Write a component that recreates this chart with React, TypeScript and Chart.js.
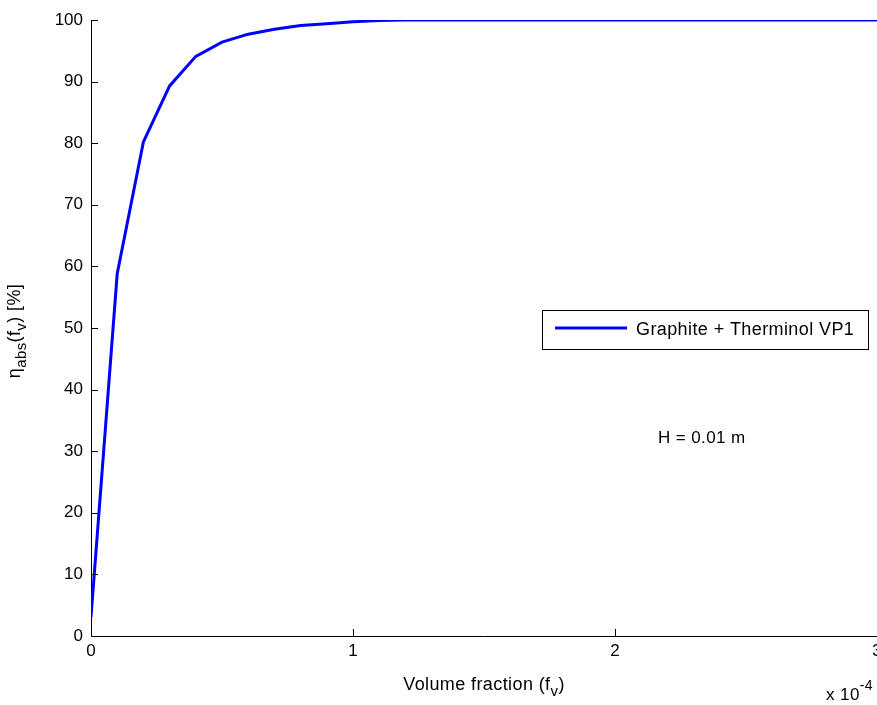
import React, { useEffect, useRef } from "react";
import { Chart, registerables } from "chart.js";

Chart.register(...registerables);

// Volume fraction in units of 1e-4
const volumeFraction = [0, 0.1, 0.2, 0.3, 0.4, 0.5, 0.6, 0.7, 0.8, 0.9, 1.0, 1.1, 1.2, 1.5, 2.0, 2.5, 3.0];
const absorptionEfficiency = [3.1, 58.8, 80.2, 89.3, 94.1, 96.4, 97.7, 98.5, 99.1, 99.4, 99.7, 99.9, 100, 100, 100, 100, 100];
const seriesLabel = "Graphite + Therminol VP1";
const xTickValues = [0, 1, 2, 3];
const yTickValues = [0, 10, 20, 30, 40, 50, 60, 70, 80, 90, 100];
const annotationText = "H = 0.01 m";

const FONT = "'Liberation Sans', Arial, Helvetica, sans-serif";

type Seg = { t: string; dy?: number; size?: number };

function drawRich(ctx: CanvasRenderingContext2D, segs: Seg[], x: number, y: number, base: number, align: "center" | "left") {
  let total = 0;
  const widths = segs.map((s) => {
    ctx.font = `${s.size ?? base}px ${FONT}`;
    const w = ctx.measureText(s.t).width;
    total += w;
    return w;
  });
  let cx = align === "center" ? x - total / 2 : x;
  segs.forEach((s, i) => {
    ctx.font = `${s.size ?? base}px ${FONT}`;
    ctx.fillText(s.t, cx, y + (s.dy ?? 0));
    cx += widths[i];
  });
}

const decorPlugin = {
  id: "decor",
  afterDraw(chart: any) {
    const ctx: CanvasRenderingContext2D = chart.ctx;
    const xs = chart.scales.x;
    const ys = chart.scales.y;
    const area = chart.chartArea;
    ctx.save();
    // inward ticks
    ctx.strokeStyle = "#000";
    ctx.lineWidth = 1;
    const tl = 7;
    xTickValues.forEach((v) => {
      const px = Math.round(xs.getPixelForValue(v)) + 0.5;
      ctx.beginPath();
      ctx.moveTo(px, area.bottom);
      ctx.lineTo(px, area.bottom - tl);
      ctx.stroke();
    });
    yTickValues.forEach((v) => {
      const py = Math.round(ys.getPixelForValue(v)) + 0.5;
      ctx.beginPath();
      ctx.moveTo(area.left, py);
      ctx.lineTo(area.left + tl, py);
      ctx.stroke();
    });

    ctx.fillStyle = "#000";
    ctx.textBaseline = "alphabetic";
    ctx.textAlign = "left";
    (ctx as any).letterSpacing = "0.4px";

    // x title
    drawRich(ctx, [{ t: "Volume fraction (f" }, { t: "v", dy: 6, size: 15 }, { t: ")" }], 484, 690, 18, "center");
    // exponent
    drawRich(ctx, [{ t: "x 10" }, { t: "-4", dy: -10, size: 14 }], 826, 700, 17, "left");

    // y title (rotated)
    ctx.save();
    ctx.translate(20, 331);
    ctx.rotate(-Math.PI / 2);
    drawRich(ctx, [{ t: "η" }, { t: "abs", dy: 6, size: 15 }, { t: "(f" }, { t: "v", dy: 6, size: 15 }, { t: ") [%]" }], 0, 0, 18, "center");
    ctx.restore();

    // legend box
    const lx = 542, ly = 310, lw = 326, lh = 39;
    ctx.fillStyle = "#fff";
    ctx.fillRect(lx, ly, lw, lh);
    ctx.strokeStyle = "#000";
    ctx.lineWidth = 1;
    ctx.strokeRect(lx + 0.5, ly + 0.5, lw, lh);
    ctx.strokeStyle = "#0000ff";
    ctx.lineWidth = 3;
    ctx.beginPath();
    ctx.moveTo(555, 328);
    ctx.lineTo(627, 328);
    ctx.stroke();
    ctx.fillStyle = "#000";
    ctx.font = `18px ${FONT}`;
    ctx.textBaseline = "middle";
    ctx.fillText(seriesLabel, 636, 330);

    // annotation
    ctx.font = `17px ${FONT}`;
    ctx.fillText(annotationText, 658, 438);
    ctx.restore();
  },
};

export default function App() {
  const ref = useRef<HTMLCanvasElement | null>(null);
  useEffect(() => {
    if (!ref.current) return;
    const chart = new Chart(ref.current, {
      type: "line",
      data: {
        datasets: [
          {
            label: seriesLabel,
            data: volumeFraction.map((x, i) => ({ x, y: absorptionEfficiency[i] })),
            borderColor: "#0000ff",
            backgroundColor: "#0000ff",
            borderWidth: 3,
            pointRadius: 0,
            tension: 0,
            fill: false,
          },
        ],
      },
      options: {
        responsive: false,
        animation: false,
        layout: { padding: { left: 0, right: 63, top: 20, bottom: 0 } },
        plugins: { legend: { display: false }, tooltip: { enabled: false } },
        scales: {
          x: {
            type: "linear",
            min: 0,
            max: 3,
            afterFit: (s: any) => {
              s.height = 69;
            },
            afterBuildTicks: (s: any) => {
              s.ticks = xTickValues.map((v) => ({ value: v }));
            },
            ticks: {
              color: "#000",
              font: { family: FONT, size: 17 },
              padding: 5,
              callback: (v: any) => String(v),
              maxRotation: 0,
            },
            grid: { display: true, drawOnChartArea: false, drawTicks: false },
            border: { display: true, color: "#000", width: 1 },
          },
          y: {
            type: "linear",
            min: 0,
            max: 100,
            afterFit: (s: any) => {
              s.width = 91;
            },
            afterBuildTicks: (s: any) => {
              s.ticks = yTickValues.map((v) => ({ value: v }));
            },
            ticks: {
              color: "#000",
              font: { family: FONT, size: 17 },
              padding: 8,
              callback: (v: any) => String(v),
            },
            grid: { display: true, drawOnChartArea: false, drawTicks: false },
            border: { display: true, color: "#000", width: 1 },
          },
        },
      },
      plugins: [decorPlugin],
    });
    return () => chart.destroy();
  }, []);
  return (
    <div style={{ position: "fixed", left: 0, top: 0, width: 877, height: 705, overflow: "hidden", background: "#fff" }}>
      <canvas ref={ref} width={940} height={705} style={{ width: 940, height: 705, display: "block" }} />
    </div>
  );
}
